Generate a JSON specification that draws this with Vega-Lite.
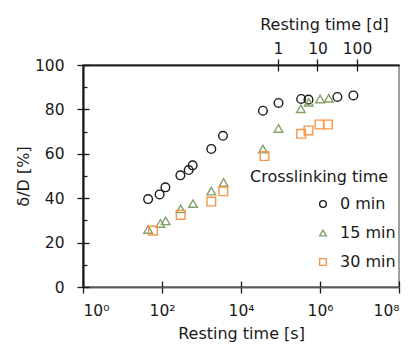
{
  "$schema": "https://vega.github.io/schema/vega-lite/v6.json",
  "autosize": {"type": "none"},
  "padding": {"left": 83, "top": 65, "right": 15, "bottom": 59},
  "width": 316,
  "height": 222,
  "config": {
    "font": "DejaVu Sans",
    "view": {"stroke": "#808080", "strokeWidth": 1.5},
    "axis": {"grid": false, "labelFont": "DejaVu Sans", "titleFont": "DejaVu Sans", "labelFontSize": 15.5, "titleFontSize": 16, "labelColor": "#1a1a1a", "titleColor": "#1a1a1a", "titleFontWeight": "normal", "tickColor": "#1a1a1a", "tickWidth": 1.3, "domainColor": "#1a1a1a", "domainWidth": 1.5},
    "legend": {"labelFont": "DejaVu Sans", "titleFont": "DejaVu Sans"}
  },
  "data": {"values": [
    {"t": 44.5, "d": 39.6, "g": "0 min"},
    {"t": 87, "d": 41.7, "g": "0 min"},
    {"t": 122, "d": 44.9, "g": "0 min"},
    {"t": 292, "d": 50.3, "g": "0 min"},
    {"t": 473, "d": 52.7, "g": "0 min"},
    {"t": 597, "d": 54.8, "g": "0 min"},
    {"t": 1770, "d": 62.2, "g": "0 min"},
    {"t": 3500, "d": 68.1, "g": "0 min"},
    {"t": 35900, "d": 79.4, "g": "0 min"},
    {"t": 89000, "d": 82.9, "g": "0 min"},
    {"t": 333000, "d": 84.7, "g": "0 min"},
    {"t": 511000, "d": 84.4, "g": "0 min"},
    {"t": 2760000, "d": 85.6, "g": "0 min"},
    {"t": 7000000, "d": 86.3, "g": "0 min"},
    {"t": 44.5, "d": 25.9, "g": "15 min"},
    {"t": 91, "d": 28.6, "g": "15 min"},
    {"t": 124, "d": 29.8, "g": "15 min"},
    {"t": 297, "d": 35.2, "g": "15 min"},
    {"t": 611, "d": 37.6, "g": "15 min"},
    {"t": 1770, "d": 43.2, "g": "15 min"},
    {"t": 3630, "d": 47.1, "g": "15 min"},
    {"t": 35900, "d": 62.1, "g": "15 min"},
    {"t": 89000, "d": 71.4, "g": "15 min"},
    {"t": 327000, "d": 80.3, "g": "15 min"},
    {"t": 521000, "d": 83.2, "g": "15 min"},
    {"t": 1007000, "d": 84.7, "g": "15 min"},
    {"t": 1660000, "d": 85.0, "g": "15 min"},
    {"t": 59.4, "d": 25.4, "g": "30 min"},
    {"t": 297, "d": 32.5, "g": "30 min"},
    {"t": 1770, "d": 38.5, "g": "30 min"},
    {"t": 3560, "d": 43.1, "g": "30 min"},
    {"t": 39400, "d": 59.0, "g": "30 min"},
    {"t": 333000, "d": 69.0, "g": "30 min"},
    {"t": 511000, "d": 70.5, "g": "30 min"},
    {"t": 968000, "d": 73.2, "g": "30 min"},
    {"t": 1580000, "d": 73.2, "g": "30 min"}
  ]},
  "resolve": {"axis": {"x": "independent", "y": "independent"}},
  "layer": [
    {
      "mark": {"type": "point", "filled": false, "strokeWidth": 1.4, "size": 75, "opacity": 1},
      "encoding": {
        "x": {"field": "t", "type": "quantitative",
          "scale": {"type": "log", "domain": [1, 100000000]},
          "axis": {"orient": "bottom", "values": [1, 100, 10000, 1000000, 100000000], "tickSize": 6, "labelPadding": 10, "domainColor": "#595959",
            "labelExpr": "'10' + ['⁰','¹','²','³','⁴','⁵','⁶','⁷','⁸'][round(log(datum.value)/LN10)]",
            "title": "Resting time [s]", "titlePadding": 7}},
        "y": {"field": "d", "type": "quantitative",
          "scale": {"domain": [0, 100]},
          "axis": {"orient": "left", "values": [0, 20, 40, 60, 80, 100], "tickSize": 6, "labelPadding": 13, "title": "δ/D [%]", "titlePadding": 3}},
        "shape": {"field": "g", "type": "nominal",
          "scale": {"domain": ["0 min", "15 min", "30 min"], "range": ["circle", "triangle-up", "square"]},
          "legend": {"title": "Crosslinking time", "orient": "none", "legendX": 167, "legendY": 104, "titleFontSize": 16, "titleFontWeight": "normal", "titleColor": "#1a1a1a", "labelFontSize": 16, "labelColor": "#1a1a1a", "symbolSize": 45, "symbolStrokeWidth": 1.4, "symbolOffset": 65, "labelOffset": 9, "rowPadding": 13, "titlePadding": 11}},
        "color": {"field": "g", "type": "nominal",
          "scale": {"domain": ["0 min", "15 min", "30 min"], "range": ["#1a1a1a", "#85a06a", "#f79646"]}}
      }
    },
    {
      "mark": {"type": "point", "opacity": 0},
      "encoding": {
        "x": {"field": "t", "type": "quantitative", "scale": {"type": "log", "domain": [1, 100000000]},
          "axis": {"orient": "bottom", "values": [1, 100, 10000, 1000000, 100000000], "tickSize": -6, "labels": false, "title": null, "domainColor": "#595959"}},
        "y": {"field": "d", "type": "quantitative", "scale": {"domain": [0, 100]},
          "axis": {"orient": "left", "values": [0, 20, 40, 60, 80, 100], "tickSize": -6, "labels": false, "title": null}}
      }
    },
    {
      "mark": {"type": "point", "opacity": 0},
      "encoding": {
        "x": {"field": "t", "type": "quantitative", "scale": {"type": "log", "domain": [1, 100000000]},
          "axis": {"orient": "top", "values": [86400, 864000, 8640000], "tickSize": 6, "labelPadding": 3,
            "labelExpr": "format(datum.value/86400, 'd')",
            "title": "Resting time [d]", "titlePadding": 9, "titleX": 241, "titleAnchor": "middle"}},
        "y": {"field": "d", "type": "quantitative", "scale": {"domain": [0, 100]},
          "axis": {"orient": "left", "values": [10, 30, 50, 70, 90], "tickSize": -4, "labels": false, "title": null}}
      }
    },
    {
      "mark": {"type": "point", "opacity": 0},
      "encoding": {
        "x": {"field": "t", "type": "quantitative", "scale": {"type": "log", "domain": [1, 100000000]},
          "axis": {"orient": "top", "values": [86400, 864000, 8640000], "tickSize": -6, "labels": false, "title": null}},
        "y": {"field": "d", "type": "quantitative", "scale": {"domain": [0, 100]}, "axis": null}
      }
    }
  ]
}
